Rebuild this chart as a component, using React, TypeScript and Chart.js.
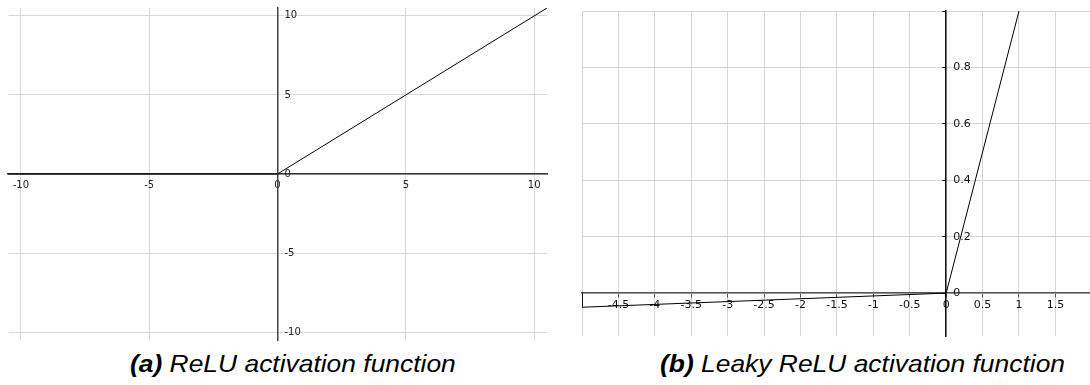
import React, { useEffect, useRef } from "react";
import { Chart, registerables } from "chart.js";

Chart.register(...registerables);

// ---------- (a) ReLU ----------
const RELU_X = [-10.5, 0, 10.5];
const RELU_Y = [0, 0, 10.5];
const RELU_X_RANGE = [-10.5, 10.5];
const RELU_Y_RANGE = [-10.5, 10.5];
const RELU_X_TICKS = [-10, -5, 0, 5, 10];
const RELU_X_LABELS = ["-10", "-5", "0", "5", "10"];
const RELU_Y_TICKS = [-10, -5, 0, 5, 10];
const RELU_Y_LABELS = ["-10", "-5", "0", "5", "10"];

// ---------- (b) Leaky ReLU ----------
const LEAKY_X = [-5, -5, 0, 1];
const LEAKY_Y = [0, -0.05, 0, 1];
const LEAKY_X_RANGE = [-5, 1.975];
const LEAKY_Y_RANGE = [-0.152, 1.0];
const LEAKY_X_TICKS = [-5, -4.5, -4, -3.5, -3, -2.5, -2, -1.5, -1, -0.5, 0, 0.5, 1, 1.5];
const LEAKY_X_LABELS = ["", "-4.5", "-4", "-3.5", "-3", "-2.5", "-2", "-1.5", "-1", "-0.5", "0", "0.5", "1", "1.5"];
const LEAKY_Y_TICKS = [0, 0.2, 0.4, 0.6, 0.8, 1.0];
const LEAKY_Y_LABELS = ["0", "0.2", "0.4", "0.6", "0.8", ""];

const CAPTION_A = ["(a)", " ReLU activation function"];
const CAPTION_B = ["(b)", " Leaky ReLU activation function"];

// Moves the (mirrored, left) y axis so it sits on x = 0 of the x scale.
const yAxisAtZero = {
  id: "yAxisAtZero",
  afterLayout(chart: any) {
    const xs = chart.scales.x;
    const ys = chart.scales.y;
    const px = xs.getPixelForValue(0);
    ys.left = px;
    ys.right = px;
  },
};

type PanelStyle = {
  padding: { left: number; top: number; right: number; bottom: number };
  fontSize: number;
  labelColor: string;
  gridColor: string;
  xAxisColor: string;
  yAxisColor: string;
  axisWidth: number;
  tickLen: number;
  xPad: number;
  yPad: number;
};

function makeConfig(
  xs: number[],
  ys: number[],
  xRange: number[],
  yRange: number[],
  xTicks: number[],
  xLabels: string[],
  yTicks: number[],
  yLabels: string[],
  st: PanelStyle
): any {
  const font = { family: "'DejaVu Sans', sans-serif", size: st.fontSize };
  return {
    type: "line",
    data: {
      datasets: [
        {
          data: xs.map((x, i) => ({ x, y: ys[i] })),
          borderColor: "#000",
          borderWidth: 1,
          pointRadius: 0,
          fill: false,
          tension: 0,
        },
      ],
    },
    options: {
      animation: false,
      responsive: false,
      events: [],
      layout: { padding: st.padding },
      plugins: { legend: { display: false }, tooltip: { enabled: false }, title: { display: false } },
      scales: {
        x: {
          type: "linear",
          min: xRange[0],
          max: xRange[1],
          position: { y: 0 },
          afterBuildTicks: (s: any) => {
            s.ticks = xTicks.map((v) => ({ value: v }));
          },
          afterFit: (s: any) => {
            s.paddingLeft = 0;
            s.paddingRight = 0;
          },
          ticks: {
            autoSkip: false,
            maxRotation: 0,
            minRotation: 0,
            padding: st.xPad,
            color: st.labelColor,
            font,
            callback: (v: number) => {
              const i = xTicks.indexOf(v);
              return i >= 0 ? xLabels[i] : "";
            },
          },
          grid: {
            color: st.gridColor,
            lineWidth: 1,
            drawTicks: st.tickLen > 0,
            tickLength: st.tickLen,
            tickColor: st.xAxisColor,
            tickWidth: 1,
          },
          border: { display: true, color: st.xAxisColor, width: st.axisWidth },
        },
        y: {
          type: "linear",
          min: yRange[0],
          max: yRange[1],
          position: "left",
          afterBuildTicks: (s: any) => {
            s.ticks = yTicks.map((v) => ({ value: v }));
          },
          afterFit: (s: any) => {
            s.width = 0;
            s.paddingTop = 0;
            s.paddingBottom = 0;
          },
          ticks: {
            mirror: true,
            padding: st.yPad,
            color: st.labelColor,
            font,
            callback: (v: number) => {
              const i = yTicks.indexOf(v);
              return i >= 0 ? yLabels[i] : "";
            },
          },
          grid: {
            color: st.gridColor,
            lineWidth: 1,
            drawTicks: st.tickLen > 0,
            tickLength: st.tickLen,
            tickColor: st.yAxisColor,
            tickWidth: 1,
          },
          border: { display: true, color: st.yAxisColor, width: st.axisWidth },
        },
      },
    },
    plugins: [yAxisAtZero],
  };
}

const reluStyle: PanelStyle = {
  padding: { left: 8, top: 8, right: 9, bottom: 5 },
  fontSize: 10,
  labelColor: "#222",
  gridColor: "#d9d9d9",
  xAxisColor: "#333",
  yAxisColor: "#444",
  axisWidth: 1.5,
  tickLen: 0,
  xPad: 5,
  yPad: 7,
};

const leakyStyle: PanelStyle = {
  padding: { left: 22, top: 11, right: 0, bottom: 9 },
  fontSize: 11,
  labelColor: "#111",
  gridColor: "#d6d6d6",
  xAxisColor: "#555",
  yAxisColor: "#111",
  axisWidth: 1.5,
  tickLen: 4,
  xPad: 1,
  yPad: 7,
};

const captionStyle: React.CSSProperties = {
  position: "absolute",
  top: 352,
  fontFamily: "'Liberation Sans', Arial, sans-serif",
  fontStyle: "italic",
  fontSize: 24,
  lineHeight: 1,
  color: "#000",
  whiteSpace: "nowrap",
  transform: "scaleX(1.1)",
  transformOrigin: "left top",
};

export default function App() {
  const reluRef = useRef<HTMLCanvasElement>(null);
  const leakyRef = useRef<HTMLCanvasElement>(null);

  useEffect(() => {
    const c1 = new Chart(
      reluRef.current as HTMLCanvasElement,
      makeConfig(RELU_X, RELU_Y, RELU_X_RANGE, RELU_Y_RANGE, RELU_X_TICKS, RELU_X_LABELS, RELU_Y_TICKS, RELU_Y_LABELS, reluStyle)
    );
    const c2 = new Chart(
      leakyRef.current as HTMLCanvasElement,
      makeConfig(LEAKY_X, LEAKY_Y, LEAKY_X_RANGE, LEAKY_Y_RANGE, LEAKY_X_TICKS, LEAKY_X_LABELS, LEAKY_Y_TICKS, LEAKY_Y_LABELS, leakyStyle)
    );
    return () => {
      c1.destroy();
      c2.destroy();
    };
  }, []);

  return (
    <div
      style={{
        position: "absolute",
        left: 0,
        top: 0,
        width: 1090,
        height: 385,
        background: "#fff",
        overflow: "hidden",
      }}
    >
      <canvas
        ref={reluRef}
        width={556}
        height={345}
        style={{ position: "absolute", left: 0, top: 0, width: 556, height: 345 }}
      />
      <canvas
        ref={leakyRef}
        width={530}
        height={345}
        style={{ position: "absolute", left: 560, top: 0, width: 530, height: 345 }}
      />
      <div style={{ ...captionStyle, left: 130 }}>
        <b>{CAPTION_A[0]}</b>
        {CAPTION_A[1]}
      </div>
      <div style={{ ...captionStyle, left: 660 }}>
        <b>{CAPTION_B[0]}</b>
        {CAPTION_B[1]}
      </div>
    </div>
  );
}
